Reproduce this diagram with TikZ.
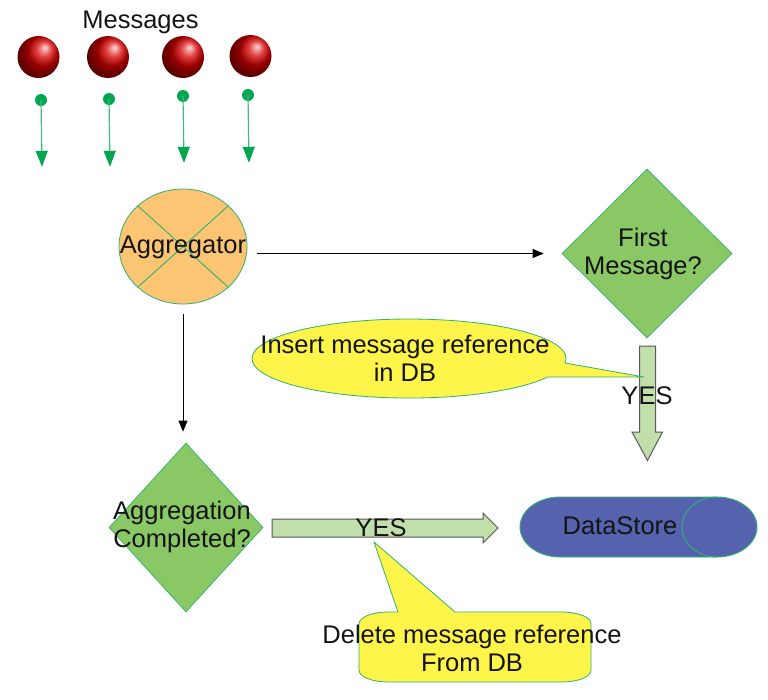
\documentclass[tikz,border=0pt]{standalone}
\usepackage{fontspec}
\setmainfont{Liberation Sans}
\usetikzlibrary{shapes.geometric,shapes.arrows,arrows.meta}
\definecolor{edgegreen}{HTML}{2FB36F}
\definecolor{dotgreen}{HTML}{00A650}
\definecolor{leaf}{HTML}{8AC765}
\definecolor{peach}{HTML}{FCC574}
\definecolor{sun}{HTML}{FFF44A}
\definecolor{slateblue}{HTML}{5563AE}
\definecolor{pale}{HTML}{C0DFAA}
\definecolor{ink}{HTML}{141414}
\tikzset{
  x=1pt,y=-1pt,
  label text/.style={font=\fontsize{25.5}{28}\selectfont,text=ink,align=center,inner sep=0pt},
  sphere/.style={circle,minimum size=42pt,inner sep=0pt,ball color=red!85!black,shading angle=-80},
  dot/.style={circle,fill=dotgreen,minimum size=12pt,inner sep=0pt},
  tipnode/.style={inner sep=0pt,minimum size=0pt},
  msgarrow/.style={draw=dotgreen!75,line width=1.2pt,-{Triangle[length=16pt,width=12pt,color=dotgreen]}},
  thinarrow/.style={draw=black,line width=0.7pt,-{Triangle[length=11pt,width=9pt,color=black]}},
  decision/.style={diamond,draw=edgegreen,fill=leaf,line width=0.7pt,inner sep=0pt,aspect=1},
  fat/.style={draw=black!65,line width=1pt,fill=pale,line join=miter},
  callout/.style={draw=edgegreen,fill=sun,line width=0.8pt,line join=round},
}
\begin{document}
\begin{tikzpicture}
\useasboundingbox (0,0) rectangle (768,699);
% messages
\node[label text] (msgs) at (140.5,22) {Messages};
\foreach \n/\x/\y in {a/38.5/57,b/108/57,c/183/57,d/250.5/56}
  \node[sphere] (s\n) at (\x,\y) {};
\foreach \n/\x/\y/\tx/\ty in {a/41/100/42/167,b/109/99/110/167,c/183/96/184/163,d/248/95/249/163}{
  \node[dot] (p\n) at (\x,\y) {};
  \node[tipnode] (t\n) at (\tx,\ty) {};
  \draw[msgarrow] (p\n.center) -- (t\n);
}
% aggregator
\node[ellipse,draw=edgegreen,fill=peach,line width=0.8pt,minimum width=128pt,minimum height=115pt,inner sep=0pt] (agg) at (183,246.5) {};
\draw[edgegreen,line width=0.9pt] (agg.north west) -- (agg.south east);
\draw[edgegreen,line width=0.9pt] (agg.north east) -- (agg.south west);
\node[label text] (aggt) at (183,247) {Aggregator};
% decisions
\node[decision,minimum width=170pt,minimum height=169pt] (first) at (647,253.5) {};
\node[label text] at (643,254) {First\\Message?};
\node[decision,minimum width=154pt,minimum height=169pt] (done) at (186,527.5) {};
\node[label text] at (182,527) {Aggregation\\Completed?};
% thin connectors
\draw[thinarrow,shorten <=10pt,shorten >=18pt] (agg.east |- first.west) -- (first.west);
\draw[thinarrow,shorten <=9.5pt,shorten >=11pt] (agg.south) -- (agg.south |- done.north);
% datastore
\node[tipnode] (ds) at (638.5,527) {};
\fill[slateblue,draw=edgegreen,line width=0.9pt] (560,497) -- (717,497) arc[start angle=90,end angle=-90,x radius=40pt,y radius=30pt] -- (560,557) arc[start angle=270,end angle=90,x radius=40pt,y radius=30pt] -- cycle;
\draw[edgegreen,line width=0.9pt] (717,497) arc[start angle=90,end angle=270,x radius=35pt,y radius=30pt];
\node[label text] at (620,526) {DataStore};
% fat arrows
\draw[fat] (639.5,346) -- (655.5,346) -- (655.5,432) -- (662.5,432) -- (647.5,460.5) -- (632,432) -- (639.5,432) -- cycle;
\draw[fat] (272,519) -- (483,519) -- (483,513) -- (498,528) -- (483,543) -- (483,537) -- (272,537) -- cycle;
% callouts
\draw[callout] (565,363) arc[start angle=-6.5,end angle=332,x radius=157pt,y radius=39.5pt] -- (644,377) -- cycle;
\draw[callout] (398,612) -- (374,542) -- (455,612) -- (561,612) .. controls (578,612) and (591,617) .. (591,624) -- (591,670) .. controls (591,677) and (578,682) .. (561,682) -- (389,682) .. controls (372,682) and (359,677) .. (359,670) -- (359,624) .. controls (359,617) and (372,612) .. (389,612) -- cycle;
% labels
\node[label text] at (405,358) {Insert message reference\\in DB};
\node[label text] at (647,396) {YES};
\node[label text] at (381,528) {YES};
\node[label text] at (472,648) {Delete message reference\\From DB};
\end{tikzpicture}
\end{document}
